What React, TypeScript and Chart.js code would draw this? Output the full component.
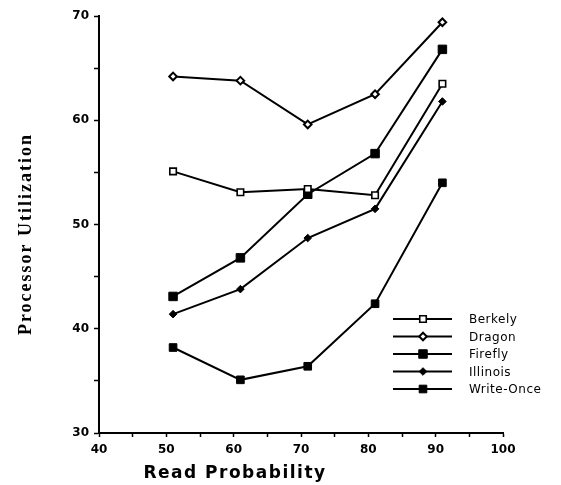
import React, { useEffect, useRef } from 'react';
import { Chart, registerables } from 'chart.js';

Chart.register(...registerables);

const readProbability = [51, 61, 71, 81, 91];
const berkely = [55.1, 53.1, 53.4, 52.8, 63.5];
const dragon = [64.2, 63.8, 59.6, 62.5, 69.4];
const firefly = [43.1, 46.8, 52.9, 56.8, 66.8];
const illinois = [41.4, 43.8, 48.7, 51.5, 61.8];
const writeOnce = [38.2, 35.1, 36.4, 42.4, 54.0];
const seriesNames = ['Berkely', 'Dragon', 'Firefly', 'Illinois', 'Write-Once'];
const xTitle = 'Read Probability';
const yTitle = 'Processor Utilization';

type Marker = { style: 'rect' | 'rectRot'; radius: number; fill: string; border: number };
const markers: Marker[] = [
  { style: 'rect', radius: 4.6, fill: '#fff', border: 1.6 },
  { style: 'rectRot', radius: 3.8, fill: '#fff', border: 2 },
  { style: 'rect', radius: 6, fill: '#000', border: 1 },
  { style: 'rectRot', radius: 3.8, fill: '#000', border: 1 },
  { style: 'rect', radius: 5.4, fill: '#000', border: 1 },
];

const seriesValues = [berkely, dragon, firefly, illinois, writeOnce];

function drawMarker(ctx: CanvasRenderingContext2D, m: Marker, x: number, y: number) {
  ctx.save();
  ctx.beginPath();
  if (m.style === 'rect') {
    const s = Math.SQRT1_2 * m.radius;
    ctx.rect(x - s, y - s, 2 * s, 2 * s);
  } else {
    const r = m.radius;
    ctx.moveTo(x, y - r);
    ctx.lineTo(x + r, y);
    ctx.lineTo(x, y + r);
    ctx.lineTo(x - r, y);
    ctx.closePath();
  }
  ctx.fillStyle = m.fill;
  ctx.fill();
  ctx.lineWidth = m.border;
  ctx.strokeStyle = '#000';
  ctx.stroke();
  ctx.restore();
}

const decorPlugin = {
  id: 'decor',
  afterDraw(chart: any) {
    const ctx: CanvasRenderingContext2D = chart.ctx;
    const xs = chart.scales.x;
    ctx.save();
    ctx.fillStyle = '#000';
    // y title
    ctx.save();
    ctx.translate(26, 234);
    ctx.rotate(-Math.PI / 2);
    ctx.font = 'bold 18px "Liberation Serif", serif';
    (ctx as any).letterSpacing = '2px';
    ctx.textAlign = 'center';
    ctx.textBaseline = 'middle';
    ctx.fillText(yTitle, 0, 0);
    ctx.restore();
    // x title
    ctx.font = 'bold 17px "DejaVu Sans", sans-serif';
    (ctx as any).letterSpacing = '1.5px';
    ctx.textAlign = 'center';
    ctx.textBaseline = 'middle';
    ctx.fillText(xTitle, xs.getPixelForValue(60.2), 474);
    (ctx as any).letterSpacing = '0px';
    // legend
    const x0 = 393, x1 = 452, xm = 423, xt = 469, y0 = 319, dy = 17.5;
    ctx.font = '12px "DejaVu Sans", sans-serif';
    (ctx as any).letterSpacing = '0.5px';
    ctx.textAlign = 'left';
    seriesNames.forEach((name, i) => {
      const y = y0 + i * dy;
      ctx.beginPath();
      ctx.moveTo(x0, y);
      ctx.lineTo(x1, y);
      ctx.lineWidth = 2;
      ctx.strokeStyle = '#000';
      ctx.stroke();
      drawMarker(ctx, markers[i], xm, y);
      ctx.fillStyle = '#000';
      ctx.fillText(name, xt, y + 1);
    });
    ctx.restore();
  },
};

export default function App() {
  const ref = useRef<HTMLCanvasElement>(null);
  useEffect(() => {
    if (!ref.current) return;
    const chart = new Chart(ref.current, {
      type: 'line',
      data: {
        datasets: seriesNames.map((name, i) => ({
          label: name,
          data: readProbability.map((x, j) => ({ x, y: seriesValues[i][j] })),
          borderColor: '#000',
          borderWidth: 2,
          pointStyle: markers[i].style,
          pointRadius: markers[i].radius,
          pointBackgroundColor: markers[i].fill,
          pointBorderColor: '#000',
          pointBorderWidth: markers[i].border,
          tension: 0,
          fill: false,
        })),
      },
      options: {
        responsive: false,
        animation: false,
        events: [],
        layout: { padding: { top: 16, right: 58, left: 0, bottom: 0 } },
        plugins: { legend: { display: false }, tooltip: { enabled: false } },
        scales: {
          x: {
            type: 'linear',
            min: 40,
            max: 100,
            afterFit: (s: any) => { s.height = 52; },
            border: { display: true, color: '#000', width: 2 },
            grid: { display: true, drawOnChartArea: false, drawTicks: true, tickLength: 4, color: '#000', tickWidth: 1.5 },
            ticks: {
              stepSize: 5,
              autoSkip: false,
              maxRotation: 0,
              padding: 6,
              color: '#000',
              font: { family: '"DejaVu Sans", sans-serif', size: 12, weight: 'bold' },
              callback: (v: any) => (Number(v) % 10 === 0 ? String(v) : ''),
            },
          },
          y: {
            type: 'linear',
            min: 30,
            max: 70,
            afterFit: (s: any) => { s.width = 99; },
            border: { display: true, color: '#000', width: 2 },
            grid: { display: true, drawOnChartArea: false, drawTicks: true, tickLength: 5, color: '#000', tickWidth: 1.5 },
            ticks: {
              stepSize: 5,
              autoSkip: false,
              padding: 5,
              color: '#000',
              font: { family: '"DejaVu Sans", sans-serif', size: 12, weight: 'bold' },
              callback: (v: any) => (Number(v) % 10 === 0 ? String(v) : ''),
            },
          },
        },
      },
      plugins: [decorPlugin],
    } as any);
    return () => chart.destroy();
  }, []);
  return (
    <div style={{ position: 'absolute', left: 0, top: 0, width: 561, height: 485, background: '#fff' }}>
      <canvas ref={ref} width={561} height={485} />
    </div>
  );
}
